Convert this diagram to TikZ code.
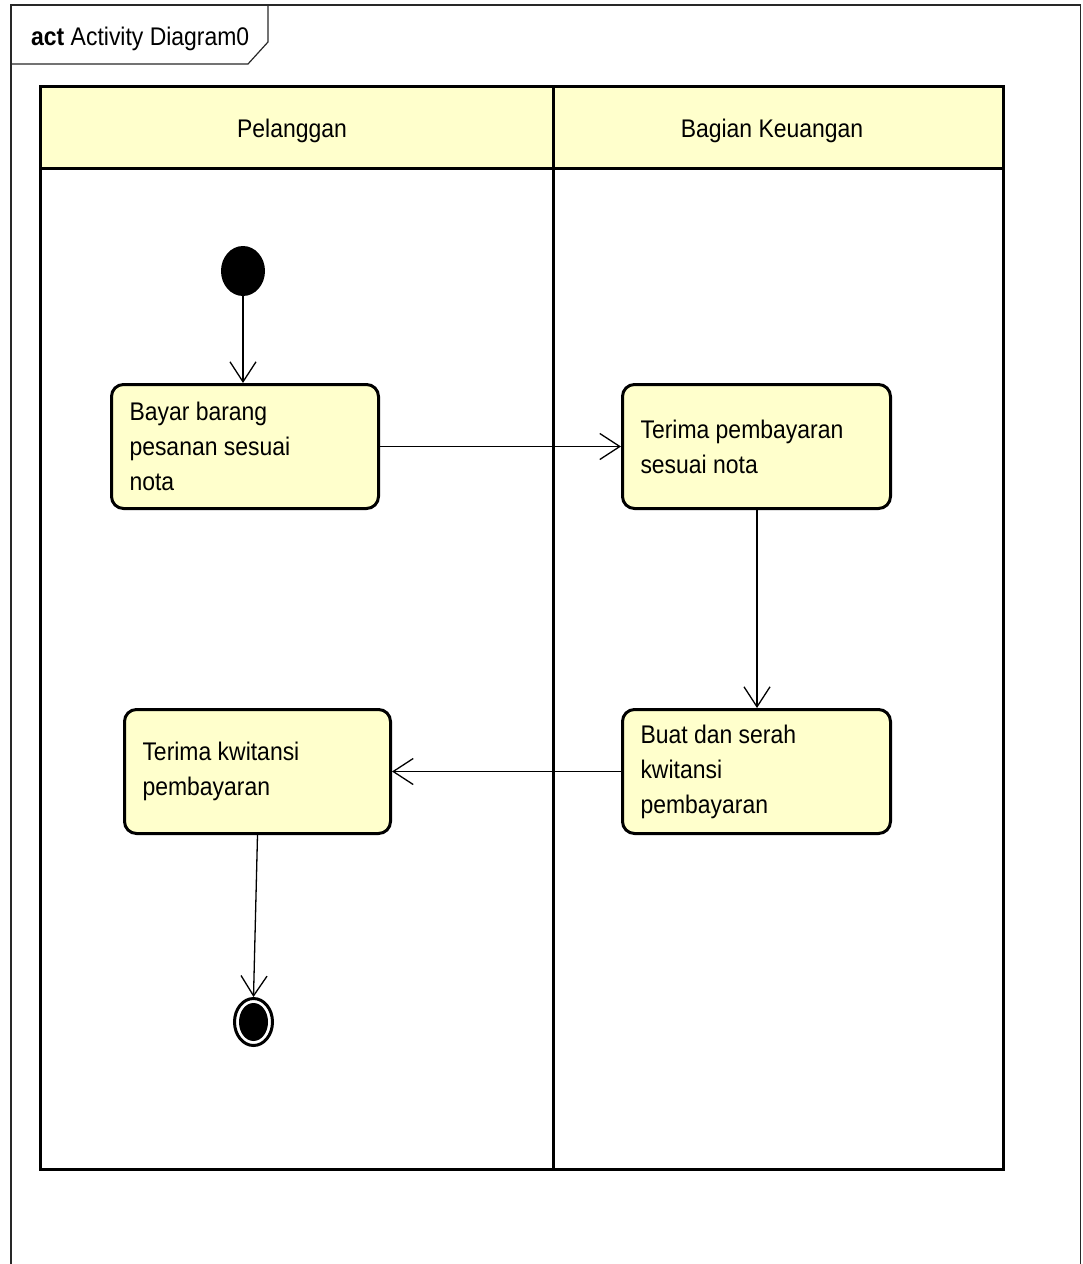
\documentclass[tikz,border=0pt]{standalone}
\usepackage{fontspec}
\setmainfont{Liberation Sans}
\newfontfamily\diafont[FakeStretch=0.9]{Liberation Sans}
\usetikzlibrary{arrows.meta,shapes.geometric}
\definecolor{actyellow}{RGB}{255,255,204}
\definecolor{framegray}{RGB}{40,40,40}
\tikzset{
  diatext/.style={font=\diafont\fontsize{25.5}{35}\selectfont},
  action/.style={diatext, draw=black, line width=3pt, fill=actyellow,
    rounded corners=12pt, align=left, inner xsep=18pt, inner ysep=0pt,
    minimum height=124pt, anchor=north west,
    execute at begin node={\spaceskip=0pt\xspaceskip=0pt\relax}},
  lane/.style={draw=black, line width=3pt},
  header/.style={lane, fill=actyellow},
  flow/.style={line width=1.3pt, -{Straight Barb[length=20pt,width=26pt,line width=1.3pt]}},
  startnode/.style={ellipse, fill=black, minimum width=44pt, minimum height=50pt, inner sep=0pt},
  endring/.style={ellipse, draw=black, line width=3pt, fill=white, minimum width=38pt, minimum height=47pt, inner sep=0pt},
  endcore/.style={ellipse, fill=black, minimum width=29pt, minimum height=38pt, inner sep=0pt}
}
\begin{document}
\begin{tikzpicture}[x=1pt, y=-1pt]
  \useasboundingbox (0,0) rectangle (1082,1264);
  % outer diagram frame with its name tab
  \draw[framegray, line width=1.2pt] (11,1264) -- (11,5) -- (1080.5,5) -- (1080.5,1264);
  \draw[framegray, line width=1.2pt] (11,64) -- (248,64) -- (268,42) -- (268,5);
  \node[diatext, anchor=base west, inner sep=0pt] (title) at (31,45) {\textbf{act} Activity Diagram0};

  % swimlanes
  \draw[header] (40,86) rectangle (553,168);
  \draw[header] (553,86) rectangle (1003,168);
  \draw[lane] (40,168) rectangle (553,1169);
  \draw[lane] (553,168) rectangle (1003,1169);
  \node[diatext] (laneA) at (292,131) {Pelanggan};
  \node[diatext] (laneB) at (772,131) {Bagian Keuangan};

  % actions
  \node[action, text width=231pt] (bayar) at (110,383) {Bayar barang\\pesanan sesuai\\nota};
  \node[action, text width=232pt] (terima) at (621,383) {Terima pembayaran\\sesuai nota};
  \node[action, text width=232pt] (serah) at (621,708) {Buat dan serah\\kwitansi\\pembayaran};
  \node[action, text width=230pt] (kwitansi) at (123,708) {Terima kwitansi\\pembayaran};

  % initial and final nodes
  \node[startnode] (init) at (243,271) {};
  \node[endring] (fin) at (253.5,1022) {};
  \node[endcore] (fincore) at (fin.center) {};

  % control flows
  \draw[flow] (init.south) -- (init.south |- bayar.north);
  \draw[flow] (bayar.east) -- (terima.west);
  \draw[flow] (terima.south -| 757,0) -- (serah.north -| 757,0);
  \draw[flow] (serah.west) -- (kwitansi.east);
  \draw[flow] (kwitansi.south) -- (fin.north);
\end{tikzpicture}
\end{document}
